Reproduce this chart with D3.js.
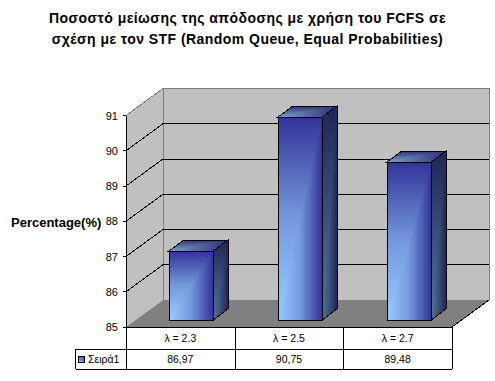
<!DOCTYPE html>
<html>
<head>
<meta charset="utf-8">
<script src="https://cdn.jsdelivr.net/npm/d3@7"></script>
<style>
    body { margin: 0; background: #fff; }
    svg { display: block; }
    text { font-family: "Liberation Sans", Arial, sans-serif; fill: #000; }
</style>
</head>
<body>
<div id="chart"></div>
<script>
const titleLines = ["Ποσοστό μείωσης της απόδοσης με χρήση του FCFS σε", "σχέση με τον STF (Random Queue, Equal Probabilities)"];
const yLabel = "Percentage(%)";
const seriesName = "Σειρά1";
const categories = ["λ = 2.3", "λ = 2.5", "λ = 2.7"];
const values = [86.97, 90.75, 89.48];
const yTicks = [85, 86, 87, 88, 89, 90, 91];

const width = 495, height = 381;
const svg = d3.select("#chart").append("svg")
    .attr("width", width)
    .attr("height", height);
const defs = svg.append("defs");

// plot box, the front edge of the floor
const left = 126, right = 452, bottom = 327, top_ = 115.5;
const depth = {x: 37, y: -27};
const barOffset = {x: 11, y: -7};
const barDepth = {x: 15, y: -11};
const barWidth = 44;

const x = d3.scaleBand().domain(categories).range([left, right]);
const y = d3.scaleLinear().domain([85, 91]).range([bottom, top_]);
const fmt = d3.formatLocale({decimal: ",", thousands: ".", grouping: [3], currency: ["", ""]}).format(".2f");

const pts = a => a.map(p => p.join(",")).join(" ");

// Walls and floor
svg.append("polygon")
    .attr("points", pts([[left + depth.x, y(91) + depth.y], [right + depth.x, y(91) + depth.y], [right + depth.x, bottom + depth.y], [left + depth.x, bottom + depth.y]]))
    .attr("fill", "#c0c0c0");
svg.append("polygon")
    .attr("points", pts([[left, bottom], [left, y(91)], [left + depth.x, y(91) + depth.y], [left + depth.x, bottom + depth.y]]))
    .attr("fill", "#c0c0c0");
svg.append("polygon")
    .attr("points", pts([[left, bottom], [right, bottom], [right + depth.x, bottom + depth.y], [left + depth.x, bottom + depth.y]]))
    .attr("fill", "#808080");

// Grey outline of the wall
svg.append("polyline")
    .attr("points", pts([[left, y(91)], [left + depth.x, y(91) + depth.y], [right + depth.x, y(91) + depth.y], [right + depth.x, bottom + depth.y]]))
    .attr("fill", "none")
    .attr("stroke", "#808080")
    .attr("stroke-width", 1)
    .attr("shape-rendering", "crispEdges");
svg.append("line")
    .attr("x1", left + depth.x).attr("x2", left + depth.x)
    .attr("y1", y(91) + depth.y).attr("y2", bottom + depth.y)
    .attr("stroke", "#808080")
    .attr("shape-rendering", "crispEdges");

// Gridlines, across the back wall and down the side wall
const grid = svg.append("g")
    .attr("stroke", "#000")
    .attr("fill", "none")
    .attr("shape-rendering", "crispEdges");
yTicks.slice(1, -1).forEach(t => {
    grid.append("polyline")
        .attr("points", pts([[left, y(t)], [left + depth.x, y(t) + depth.y], [right + depth.x, y(t) + depth.y]]));
});
grid.append("line")
    .attr("x1", right).attr("y1", bottom)
    .attr("x2", right + depth.x).attr("y2", bottom + depth.y);

// Axis
const axis = svg.append("g").attr("shape-rendering", "crispEdges").attr("stroke", "#000");
axis.append("line").attr("x1", left).attr("x2", left).attr("y1", y(91)).attr("y2", bottom);
svg.selectAll(".tick-mark").data(yTicks).join("line")
    .attr("class", "tick-mark")
    .attr("x1", left - 3).attr("x2", left)
    .attr("y1", d => y(d)).attr("y2", d => y(d))
    .attr("stroke", "#000")
    .attr("shape-rendering", "crispEdges");
svg.selectAll(".tick-label").data(yTicks).join("text")
    .attr("class", "tick-label")
    .attr("x", left - 8)
    .attr("y", d => y(d) + 4)
    .attr("text-anchor", "end")
    .attr("font-size", 11)
    .text(d => d);

// Excel "from corner" fill: the bounding box is cut along its diagonal,
// the upper half fades vertically and the lower half fades horizontally
function makeGradient(id, vertical, stops) {
    const g = defs.append("linearGradient").attr("id", id)
        .attr("x1", 0).attr("y1", vertical ? 1 : 0)
        .attr("x2", vertical ? 0 : 1).attr("y2", 0);
    stops.forEach((s, i) => {
        g.append("stop").attr("offset", i / (stops.length - 1)).attr("stop-color", s);
    });
}
const faces = {
    front: ["#99ccff", "#7499dc", "#333399"],
    side: ["#4f7596", "#3a5078", "#1f2658"],
    top: ["#76a2cc", "#56699f", "#2b2f7d"]
};
Object.keys(faces).forEach(k => {
    makeGradient(k + "V", true, faces[k]);
    makeGradient(k + "H", false, faces[k]);
});

let clipCount = 0;
function drawFace(parent, points, kind) {
    const id = "clip" + clipCount++;
    defs.append("clipPath").attr("id", id).append("polygon").attr("points", pts(points));
    const x0 = d3.min(points, p => p[0]), x1 = d3.max(points, p => p[0]);
    const y0 = d3.min(points, p => p[1]), y1 = d3.max(points, p => p[1]);
    const g = parent.append("g").attr("clip-path", `url(#${id})`);
    // full box first so no seam shows along the diagonal
    g.append("polygon")
        .attr("points", pts([[x0, y0], [x1, y0], [x1, y1], [x0, y1]]))
        .attr("fill", `url(#${kind}H)`);
    g.append("polygon")
        .attr("points", pts([[x0, y1], [x0, y0], [x1, y0]]))
        .attr("fill", `url(#${kind}V)`);
    parent.append("polygon")
        .attr("points", pts(points))
        .attr("fill", "none")
        .attr("stroke", "#000")
        .attr("stroke-width", 1)
        .attr("shape-rendering", "crispEdges");
}

// Bars
categories.forEach((c, i) => {
    const bx = Math.round(x(c) + x.bandwidth() / 2 + barOffset.x - barWidth / 2);
    const by = Math.round(y(values[i]) + barOffset.y);
    const b0 = bottom + barOffset.y;
    const bar = svg.append("g").attr("class", "bar");
    drawFace(bar, [[bx, by], [bx + barWidth, by], [bx + barWidth + barDepth.x, by + barDepth.y], [bx + barDepth.x, by + barDepth.y]], "top");
    drawFace(bar, [[bx + barWidth, b0], [bx + barWidth, by], [bx + barWidth + barDepth.x, by + barDepth.y], [bx + barWidth + barDepth.x, b0 + barDepth.y]], "side");
    drawFace(bar, [[bx, by], [bx + barWidth, by], [bx + barWidth, b0], [bx, b0]], "front");
});

// Data table under the plot
const tableLeft = 75.5, row1 = 349, row2 = 369;
const table = svg.append("g")
    .attr("stroke", "#000")
    .attr("shape-rendering", "crispEdges");
table.append("line").attr("x1", left).attr("x2", right).attr("y1", bottom).attr("y2", bottom);
table.append("line").attr("x1", tableLeft).attr("x2", right).attr("y1", row1).attr("y2", row1);
table.append("line").attr("x1", tableLeft).attr("x2", right).attr("y1", row2).attr("y2", row2);
table.append("line").attr("x1", tableLeft).attr("x2", tableLeft).attr("y1", row1).attr("y2", row2);
[left].concat(categories.map(c => x(c) + x.bandwidth())).forEach(v => {
    table.append("line").attr("x1", Math.round(v)).attr("x2", Math.round(v)).attr("y1", bottom).attr("y2", row2);
});
categories.forEach((c, i) => {
    svg.append("text")
        .attr("x", x(c) + x.bandwidth() / 2)
        .attr("y", 342)
        .attr("text-anchor", "middle")
        .attr("font-size", 10.5)
        .text(c);
    svg.append("text")
        .attr("x", x(c) + x.bandwidth() / 2)
        .attr("y", 363)
        .attr("text-anchor", "middle")
        .attr("font-size", 10.5)
        .text(fmt(values[i]));
});

// Legend key
const keyGrad = defs.append("linearGradient").attr("id", "key")
    .attr("x1", 0).attr("y1", 1).attr("x2", 1).attr("y2", 0);
keyGrad.append("stop").attr("offset", 0).attr("stop-color", faces.front[0]);
keyGrad.append("stop").attr("offset", 1).attr("stop-color", faces.front[2]);
svg.append("rect")
    .attr("x", 78.5).attr("y", 356.5)
    .attr("width", 6).attr("height", 6)
    .attr("fill", "url(#key)")
    .attr("stroke", "#000")
    .attr("shape-rendering", "crispEdges");
svg.append("text")
    .attr("x", 88)
    .attr("y", 363)
    .attr("font-size", 10.5)
    .text(seriesName);

// Titles
svg.selectAll(".title").data(titleLines).join("text")
    .attr("class", "title")
    .attr("x", 247.5)
    .attr("y", (d, i) => 23 + i * 21)
    .attr("text-anchor", "middle")
    .attr("font-size", 14)
    .attr("letter-spacing", 0.45)
    .attr("font-weight", "bold")
    .text(d => d);
svg.append("text")
    .attr("x", 11)
    .attr("y", 227)
    .attr("font-size", 13)
    .attr("font-weight", "bold")
    .text(yLabel);
</script>
</body>
</html>
